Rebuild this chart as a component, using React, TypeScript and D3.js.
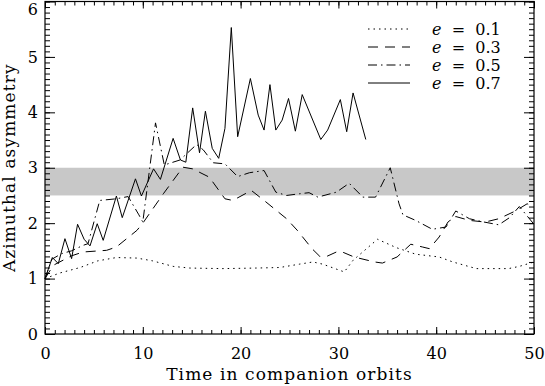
import React, { useEffect, useRef } from "react";
import * as d3 from "d3";

// [time in companion orbits, azimuthal asymmetry]
const E01 = [
  [0, 1.0], [1.5, 1.1], [3.6, 1.2], [5.4, 1.32], [7.3, 1.38], [9.4, 1.37], [11, 1.32],
  [13.1, 1.22], [14.8, 1.19], [18.2, 1.18], [21.6, 1.19], [24, 1.2], [26, 1.26], [27.4, 1.3],
  [28.4, 1.26], [30.6, 1.12], [31.5, 1.33], [34, 1.71], [35.9, 1.56], [37.9, 1.44],
  [40.3, 1.39], [41.7, 1.3], [44.1, 1.18], [47.4, 1.18], [48.5, 1.22], [50, 1.3],
];

const E03 = [
  [0, 1.0], [0.85, 1.24], [2.7, 1.41], [3.9, 1.48], [6.3, 1.51], [7.3, 1.57], [9.4, 1.87],
  [10, 2.0], [12.1, 2.53], [14.1, 3.01], [15.1, 2.98], [16.8, 2.83], [18.4, 2.44],
  [19.2, 2.41], [21.1, 2.59], [22.4, 2.41], [24.7, 2.08], [25.8, 1.87], [27.3, 1.54],
  [28.1, 1.4], [28.8, 1.4], [29.8, 1.48], [30.4, 1.48], [31.6, 1.39], [33.7, 1.3],
  [34.5, 1.28], [36, 1.39], [37.4, 1.62], [38.6, 1.57], [39.3, 1.54], [40.3, 1.75],
  [41.2, 2.02], [42, 2.12], [43.4, 2.05], [45, 2.02], [46.4, 2.08], [48.1, 2.22],
  [49.3, 2.35], [50, 2.28],
];

const E05 = [
  [0, 1.0], [0.7, 1.35], [1.7, 1.45], [2.7, 1.5], [3.9, 1.6], [4.4, 1.63], [5.6, 2.41],
  [7.3, 2.44], [8.5, 2.48], [9.6, 2.15], [10, 2.02], [11.3, 3.81], [12.2, 3.05],
  [13.8, 3.14], [15.5, 3.42], [16.2, 3.32], [17.2, 3.09], [18.4, 3.07], [19.7, 2.84],
  [20.9, 2.91], [22.4, 2.95], [23.6, 2.56], [24.7, 2.5], [26, 2.53], [27, 2.55],
  [27.9, 2.47], [29.8, 2.56], [31.1, 2.72], [32.5, 2.47], [33.8, 2.47], [35.3, 3.0],
  [36.2, 2.35], [36.6, 2.15], [37.9, 2.05], [39.6, 1.89], [41, 1.93], [42, 2.22],
  [43.4, 2.08], [44.6, 2.03], [46.4, 1.97], [47.5, 2.1], [48.5, 2.3], [50, 1.98],
];

const E07 = [
  [0, 1.0], [0.75, 1.38], [1.36, 1.27], [2.04, 1.72], [2.72, 1.36], [3.33, 1.98], [4.0, 1.71],
  [4.6, 1.59], [5.34, 1.99], [5.95, 1.69], [7.3, 2.49], [7.9, 2.1], [9.25, 2.8], [9.86, 2.49],
  [11.1, 2.98], [11.8, 2.79], [13.1, 3.53], [13.85, 3.14], [14.4, 3.1], [15.1, 4.08],
  [15.8, 3.27], [16.4, 4.02], [17.1, 3.35], [17.76, 3.17], [18.4, 3.71], [19.05, 5.53],
  [19.7, 3.56], [21.0, 4.61], [21.8, 3.95], [22.4, 3.68], [23.0, 4.5], [23.6, 3.68],
  [24.25, 3.86], [24.9, 4.25], [25.6, 3.66], [26.3, 4.32], [28.2, 3.51], [28.9, 3.68],
  [30.2, 4.23], [30.85, 3.65], [31.5, 4.35], [32.8, 3.51],
];

const SERIES = [
  { label: "0.1", data: E01, dash: "1.5,4" },
  { label: "0.3", data: E03, dash: "10,7" },
  { label: "0.5", data: E05, dash: "9,4,1.5,4" },
  { label: "0.7", data: E07, dash: null },
];

const BAND = [2.5, 3.0];
const X_MAJOR = [0, 10, 20, 30, 40, 50];
const Y_MAJOR = [0, 1, 2, 3, 4, 5, 6];

const FONT = "DejaVu Serif";

const App = () => {
  const ref = useRef<HTMLDivElement>(null);

  useEffect(() => {
    document.body.style.margin = "0";
    const width = 545;
    const height = 386;
    const margin = { top: 1.5, right: 11, bottom: 52, left: 45 };

    const svg = d3
      .select(ref.current)
      .html("")
      .append("svg")
      .attr("width", width)
      .attr("height", height)
      .style("display", "block")
      .style("background", "white");

    const x = d3.scaleLinear().domain([0, 50]).range([margin.left, width - margin.right]);
    const y = d3.scaleLinear().domain([0, 6]).range([height - margin.bottom, margin.top]);

    // shaded band
    svg
      .append("rect")
      .attr("x", x(0))
      .attr("y", y(BAND[1]))
      .attr("width", x(50) - x(0))
      .attr("height", y(BAND[0]) - y(BAND[1]))
      .attr("fill", "#c8c8c8");

    const line = d3
      .line<number[]>()
      .x((d) => x(d[0]))
      .y((d) => y(d[1]));

    SERIES.forEach((s) => {
      svg
        .append("path")
        .datum(s.data)
        .attr("d", line)
        .attr("fill", "none")
        .attr("stroke", "black")
        .attr("stroke-width", 1)
        .attr("stroke-dasharray", s.dash);
    });

    // axes, ticks inward
    const styleAxis = (g) => {
      g.select(".domain").remove();
      g.selectAll("line").attr("stroke", "black");
      g.selectAll("text").attr("font-family", FONT).attr("font-size", 16).attr("fill", "black");
    };

    const minorX = d3.range(0, 51);
    const minorY = d3.range(0, 61).map((d) => d / 10);
    const yb = y(0);
    const yt = y(6);
    const xl = x(0);
    const xr = x(50);

    svg.append("g").attr("transform", `translate(0,${yb})`)
      .call(d3.axisBottom(x).tickValues(minorX).tickSize(-4).tickFormat(() => "")).call(styleAxis);
    svg.append("g").attr("transform", `translate(0,${yb})`)
      .call(d3.axisBottom(x).tickValues(X_MAJOR).tickSize(-7).tickPadding(14).tickFormat(d3.format("d")))
      .call(styleAxis);
    svg.append("g").attr("transform", `translate(0,${yt})`)
      .call(d3.axisTop(x).tickValues(minorX).tickSize(-4).tickFormat(() => "")).call(styleAxis);
    svg.append("g").attr("transform", `translate(0,${yt})`)
      .call(d3.axisTop(x).tickValues(X_MAJOR).tickSize(-7).tickFormat(() => "")).call(styleAxis);

    svg.append("g").attr("transform", `translate(${xl},0)`)
      .call(d3.axisLeft(y).tickValues(minorY).tickSize(-5).tickFormat(() => "")).call(styleAxis);
    const yAxis = svg.append("g").attr("transform", `translate(${xl},0)`)
      .call(d3.axisLeft(y).tickValues(Y_MAJOR).tickSize(-10).tickPadding(7).tickFormat(d3.format("d")))
      .call(styleAxis);
    // keep the top label inside the picture
    yAxis.selectAll("text").filter((d) => d === 6).attr("dy", "0.8em");

    svg.append("g").attr("transform", `translate(${xr},0)`)
      .call(d3.axisRight(y).tickValues(minorY).tickSize(-5).tickFormat(() => "")).call(styleAxis);
    svg.append("g").attr("transform", `translate(${xr},0)`)
      .call(d3.axisRight(y).tickValues(Y_MAJOR).tickSize(-10).tickFormat(() => "")).call(styleAxis);

    svg
      .append("rect")
      .attr("x", xl)
      .attr("y", yt)
      .attr("width", xr - xl)
      .attr("height", yb - yt)
      .attr("fill", "none")
      .attr("stroke", "black")
      .attr("stroke-width", 1.2);

    // axis titles
    svg
      .append("text")
      .attr("x", (xl + xr) / 2)
      .attr("y", 380)
      .attr("text-anchor", "middle")
      .attr("font-family", FONT)
      .attr("font-size", 17)
      .attr("letter-spacing", 1.1)
      .text("Time in companion orbits");

    svg
      .append("text")
      .attr("transform", `translate(15,${(yt + yb) / 2}) rotate(-90)`)
      .attr("text-anchor", "middle")
      .attr("font-family", FONT)
      .attr("font-size", 17)
      .attr("letter-spacing", 1.1)
      .text("Azimuthal asymmetry");

    // legend
    const legend = svg.append("g");
    SERIES.forEach((s, i) => {
      const ly = 29 + i * 18;
      legend
        .append("line")
        .attr("x1", 368)
        .attr("x2", 410)
        .attr("y1", ly)
        .attr("y2", ly)
        .attr("stroke", "black")
        .attr("stroke-width", 1)
        .attr("stroke-dasharray", s.dash);
      const t = legend
        .append("text")
        .attr("x", 432)
        .attr("y", ly + 6)
        .attr("font-family", FONT)
        .attr("font-size", 16)
        .attr("xml:space", "preserve");
      t.append("tspan").attr("font-style", "italic").text("e");
      t.append("tspan").text("  =  " + s.label);
    });
  }, []);

  return <div ref={ref} />;
};

export default App;
